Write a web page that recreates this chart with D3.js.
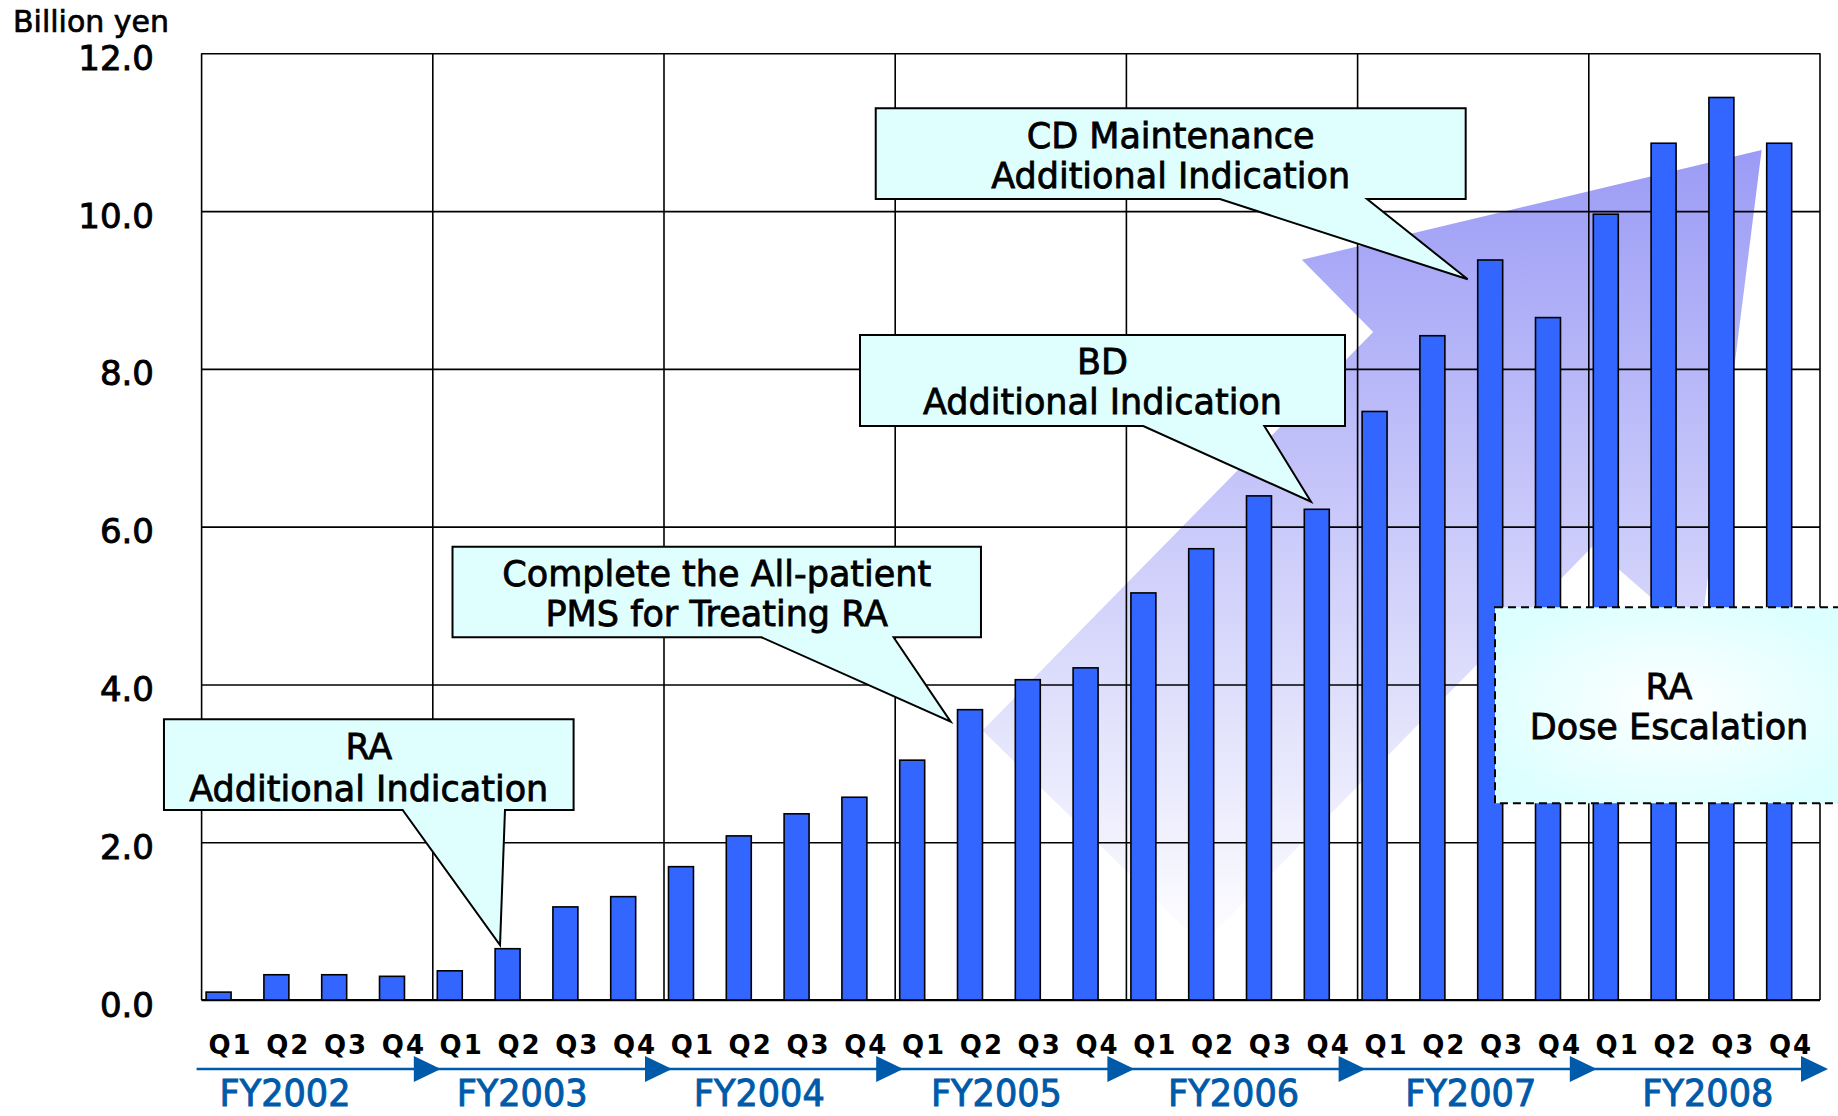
<!DOCTYPE html>
<html><head><meta charset="utf-8">
<script src="https://cdn.jsdelivr.net/npm/d3@7"></script>
<style>
body{margin:0;background:#fff}
svg{display:block}
text{font-family:"DejaVu Sans",sans-serif;fill:#000}
</style>
</head><body>
<svg id="c" width="1838" height="1116"></svg>
<script>
// ---------------- data ----------------
const years = ["FY2002","FY2003","FY2004","FY2005","FY2006","FY2007","FY2008"];
const quarters = ["Q1","Q2","Q3","Q4"];
const sales = [0.10,0.32,0.32,0.30, 0.37,0.65,1.18,1.31, 1.69,2.08,2.36,2.57,
               3.04,3.68,4.06,4.21, 5.16,5.72,6.39,6.22, 7.46,8.42,9.38,8.65,
               9.96,10.86,11.44,10.86];
const yTicks = [0,2,4,6,8,10,12];
const yUnit = "Billion yen";
const calloutLines = [
  ["RA","Additional Indication"],
  ["Complete the All-patient","PMS for Treating RA"],
  ["BD","Additional Indication"],
  ["CD Maintenance","Additional Indication"],
  ["RA","Dose Escalation"]
];

// ------------- annotation layout (in quarter units u, value units v) -------------
const calloutGeom = [
  {box:[-0.651,6.436,3.558,2.408], base:[3.478,5.249], tip:[5.163,0.697], cx:2.893, lv:[3.211,2.687]},
  {box:[4.341,13.484,5.746,4.598], base:[9.685,11.972], tip:[12.960,3.528], cx:8.913, lv:[5.413,4.906]},
  {box:[11.391,19.782,8.429,7.276], base:[16.292,18.386], tip:[19.194,6.316], cx:15.586, lv:[8.091,7.584]},
  {box:[11.663,21.870,11.303,10.153], base:[17.619,20.163], tip:[21.905,9.135], cx:16.766, lv:[10.965,10.458]},
  {box:[22.377,28.44,4.978,2.493], dashed:true, cx:25.388, lv:[3.971,3.464]}
];
const arrowShape = [[13.51,3.416],[20.27,8.467],[19.035,9.383],[26.99,10.775],
                    [25.924,4.563],[24.064,5.747],[17.31,0.697]];

// ---------------- chart ----------------
const svg = d3.select("#c");
const plot = {left:201.6, right:1820, top:53.3, bottom:1000};
const x = d3.scaleBand().domain(d3.range(sales.length)).range([plot.left, plot.right]).padding(0);
const bw = x.bandwidth();
const xq = d3.scaleLinear().domain([0, sales.length]).range([plot.left, plot.right]);
const y = d3.scaleLinear().domain([0, 12]).range([plot.bottom, plot.top]);

const defs = svg.append("defs");
const lg = defs.append("linearGradient").attr("id","ag").attr("gradientUnits","userSpaceOnUse")
  .attr("x1",0).attr("x2",0).attr("y1",y(10.9)).attr("y2",y(0.6));
lg.append("stop").attr("offset",0).attr("stop-color","#9a9af6");
lg.append("stop").attr("offset",1).attr("stop-color","#ffffff");
const rg = defs.append("radialGradient").attr("id","rg").attr("cx","50%").attr("cy","50%").attr("r","60%");
rg.append("stop").attr("offset",0).attr("stop-color","#ffffff");
rg.append("stop").attr("offset",1).attr("stop-color","#dcffff");

// big background arrow
svg.append("path")
  .attr("d", d3.line().x(d=>xq(d[0])).y(d=>y(d[1]))(arrowShape) + "Z")
  .attr("fill","url(#ag)");

// horizontal grid + y labels
const gy = svg.append("g").attr("transform",`translate(${plot.left},0)`)
  .call(d3.axisLeft(y).tickValues(yTicks).tickSize(-(plot.right-plot.left)).tickFormat(d3.format(".1f")));
gy.select(".domain").remove();
gy.selectAll(".tick line").attr("stroke","#000").attr("stroke-width",1.6);
gy.selectAll(".tick text").attr("x", 154 - plot.left).attr("dy",16)
  .attr("font-size",34).attr("font-family","DejaVu Sans").attr("fill","#000")
  .attr("stroke","#000").attr("stroke-width",0.9);

// vertical year lines
svg.append("g").selectAll("line").data(d3.range(years.length+1)).join("line")
  .attr("x1",d=>xq(d*4)).attr("x2",d=>xq(d*4))
  .attr("y1",plot.top).attr("y2",plot.bottom)
  .attr("stroke","#000").attr("stroke-width",1.6);
svg.append("line").attr("x1",plot.left).attr("x2",plot.right).attr("y1",plot.bottom).attr("y2",plot.bottom)
  .attr("stroke","#000").attr("stroke-width",2);

// bars
svg.append("g").selectAll("rect").data(sales).join("rect")
  .attr("x",(d,i)=>x(i)+bw*0.078).attr("width",bw*0.432)
  .attr("y",d=>y(d)).attr("height",d=>y(0)-y(d))
  .attr("fill","#3366ff").attr("stroke","#000").attr("stroke-width",1.6);

// unit label
svg.append("text").attr("x",13).attr("y",32).attr("font-size",30)
  .attr("stroke","#000").attr("stroke-width",0.7).text(yUnit);

// quarter labels
svg.append("g").selectAll("text").data(sales).join("text")
  .attr("x",(d,i)=>x(i)+bw/2).attr("y",1054).attr("text-anchor","middle")
  .attr("font-family","Liberation Sans").attr("font-weight","bold").attr("font-size",26)
  .attr("letter-spacing",2)
  .text((d,i)=>quarters[i%4]);

// fiscal year arrow
const blue = "#005aaa";
svg.append("line").attr("x1",xq(0)-5).attr("x2",xq(sales.length)).attr("y1",1069).attr("y2",1069)
  .attr("stroke",blue).attr("stroke-width",2.5);
svg.append("g").selectAll("path").data(years).join("path")
  .attr("d",(d,i)=>{const t=xq((i+1)*4)+8; return `M${t},1069L${t-27},1056L${t-27},1082Z`;})
  .attr("fill",blue);
const fyX = d3.scaleLinear().domain([0,years.length-1]).range([xq(1.443), xq(26.06)]);
svg.append("g").selectAll("text").data(years).join("text")
  .attr("x",(d,i)=>fyX(i)).attr("y",1106).attr("text-anchor","middle")
  .attr("font-family","Liberation Sans").attr("font-size",38)
  .attr("textLength",131).attr("lengthAdjust","spacingAndGlyphs")
  .attr("stroke",blue).attr("stroke-width",1)
  .style("fill",blue).text(d=>d);

// callouts
calloutGeom.forEach((g,k)=>{
  const [u0,u1,v0,v1] = g.box;
  const X0=xq(u0), X1=xq(u1), Y0=y(v0), Y1=y(v1);
  let d;
  if (g.tip) {
    d = `M${X0},${Y0}H${X1}V${Y1}H${xq(g.base[1])}L${xq(g.tip[0])},${y(g.tip[1])}L${xq(g.base[0])},${Y1}H${X0}Z`;
  } else {
    d = `M${X0},${Y0}H${X1}V${Y1}H${X0}Z`;
  }
  svg.append("path").attr("d",d)
    .attr("fill", g.dashed ? "url(#rg)" : "#dfffff")
    .attr("stroke","#000").attr("stroke-width",2)
    .attr("stroke-dasharray", g.dashed ? "8,5" : null)
    .attr("stroke-linejoin","miter");
  calloutLines[k].forEach((t,j)=>{
    svg.append("text").attr("x",xq(g.cx)).attr("y",y(g.lv[j])).attr("dy","0.36em")
      .attr("text-anchor","middle").attr("font-size",35)
      .attr("stroke","#000").attr("stroke-width",0.8).text(t);
  });
});
</script>
</body></html>
